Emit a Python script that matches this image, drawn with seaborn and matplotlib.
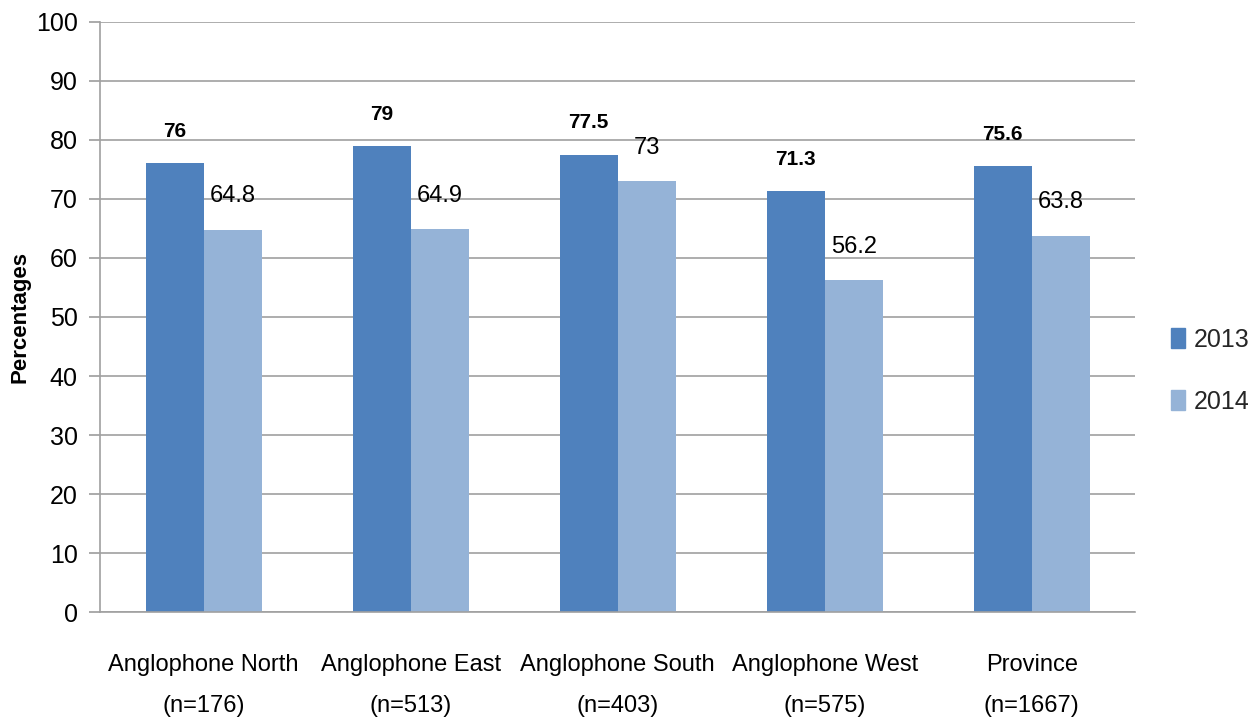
import numpy as np
import pandas as pd
import seaborn as sns
import matplotlib.pyplot as plt
from matplotlib.patches import Patch

regions = ['Anglophone North\n(n=176)', 'Anglophone East\n(n=513)', 'Anglophone South\n(n=403)',
           'Anglophone West\n(n=575)', 'Province\n(n=1667)']
years = ['2013', '2014']
values_2013 = [76, 79, 77.5, 71.3, 75.6]
values_2014 = [64.8, 64.9, 73, 56.2, 63.8]
colors = ['#4F81BD', '#95B3D7']

df = pd.DataFrame({
    'region': regions * 2,
    'year': ['2013'] * len(regions) + ['2014'] * len(regions),
    'value': values_2013 + values_2014,
})

sns.set_theme(style='white')
plt.rcParams['font.family'] = ['Liberation Sans', 'DejaVu Sans']

fig = plt.figure(figsize=(12.58, 7.27), dpi=100)
ax = fig.add_axes([0.0795, 0.158, 0.823, 0.812])

sns.barplot(data=df, x='region', y='value', hue='year', palette=colors,
            width=0.56, saturation=1, linewidth=0, ax=ax, legend=False)

# value labels, 2013 bold
for cont, yr in zip(ax.containers, years):
    labels = [('%g' % b.get_height()) for b in cont]
    ax.bar_label(cont, labels=labels, padding=16,
                 fontsize=15 if yr == '2013' else 17,
                 fontweight='bold' if yr == '2013' else 'normal',
                 color='black')

ax.set_ylim(0, 100)
ax.set_yticks(np.arange(0, 101, 10))
ax.yaxis.grid(True, color='#A0A0A0', linewidth=1.2)
ax.set_axisbelow(True)
ax.set_xlabel('')
ax.set_ylabel('Percentages', fontsize=16, fontweight='bold', color='black')
ax.yaxis.set_label_coords(-0.067, 0.5)
ax.tick_params(axis='y', labelsize=18, left=True, length=8, color='#A0A0A0', pad=8, labelcolor='black')
ax.tick_params(axis='x', labelsize=17, bottom=False, pad=24, labelcolor='black')
for lab in ax.get_xticklabels():
    lab.set_linespacing(2.1)
for s in ['top', 'right']:
    ax.spines[s].set_visible(False)
for s in ['left', 'bottom']:
    ax.spines[s].set_color('#A0A0A0')
    ax.spines[s].set_linewidth(1.2)

handles = [Patch(color=c, label=y) for c, y in zip(colors, years)]
fig.legend(handles=handles, loc='center left', bbox_to_anchor=(0.913, 0.49),
           frameon=False, fontsize=18, handlelength=0.55, handleheight=0.85,
           handletextpad=0.35, labelspacing=1.5)

fig.savefig('out.png', dpi=100)
